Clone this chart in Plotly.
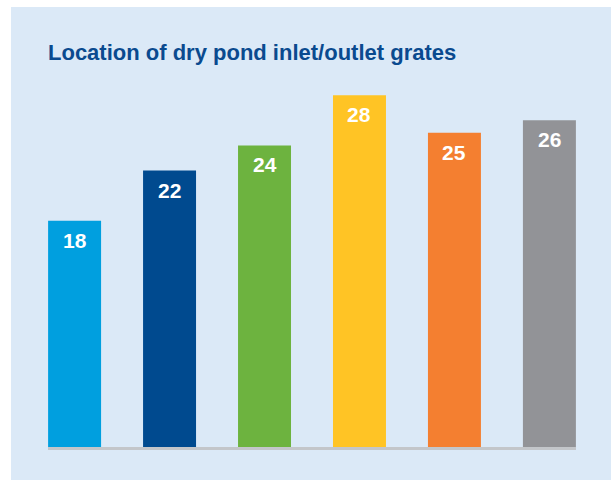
import plotly.graph_objects as go

categories = ["Cat 1", "Cat 2", "Cat 3", "Cat 4", "Cat 5", "Cat 6"]
values = [18, 22, 24, 28, 25, 26]
colors = ["#009fdf", "#004a8f", "#6db33f", "#ffc425", "#f47f30", "#929397"]
title_text = "Location of dry pond inlet/outlet grates"

W, H = 611, 480
ml, mr, mt, mb = 48, 35, 70, 33
pw, ph = W - ml - mr, H - mt - mb
panel_left_px, panel_top_px = 11, 7

fig = go.Figure(go.Bar(
    x=categories, y=values,
    marker=dict(color=colors, line=dict(width=0)),
    width=53 / 95,
    hoverinfo="skip",
))

label_font = dict(family="Liberation Sans", size=21, color="white", weight="bold")
annotations = [
    dict(x=c, y=v, xref="x", yref="y", text=str(v), showarrow=False,
         yanchor="top", xanchor="center", yshift=-6, font=label_font)
    for c, v in zip(categories, values)
]

fig.update_layout(
    width=W, height=H,
    margin=dict(l=ml, r=mr, t=mt, b=mb, pad=0),
    paper_bgcolor="#dbe9f7",
    plot_bgcolor="rgba(0,0,0,0)",
    showlegend=False,
    title=dict(
        text="<b>" + title_text + "</b>",
        x=ml / W, xanchor="left", xref="container",
        y=1 - 52 / H, yanchor="middle", yref="container",
        font=dict(family="Liberation Sans", size=22, color="#0a4a8f"),
    ),
    xaxis=dict(
        range=[-0.28, len(categories) - 1 + 0.28],
        showticklabels=False, showgrid=False, zeroline=False,
        showline=True, linecolor="#c3c6ca", linewidth=3, ticks="",
        fixedrange=True,
    ),
    yaxis=dict(
        range=[0, 30], showticklabels=False, showgrid=False,
        zeroline=False, showline=False, ticks="", fixedrange=True,
    ),
    shapes=[
        dict(type="rect", xref="paper", yref="paper",
             x0=-1, x1=(panel_left_px - ml) / pw, y0=-1, y1=3,
             fillcolor="white", line=dict(width=0), layer="below"),
        dict(type="rect", xref="paper", yref="paper",
             x0=-1, x1=3, y0=(H - mb - panel_top_px) / ph, y1=3,
             fillcolor="white", line=dict(width=0), layer="below"),
    ],
    annotations=annotations,
)

fig.write_html("out.html", config={"displayModeBar": False},
               post_script="document.body.style.margin='0';")
